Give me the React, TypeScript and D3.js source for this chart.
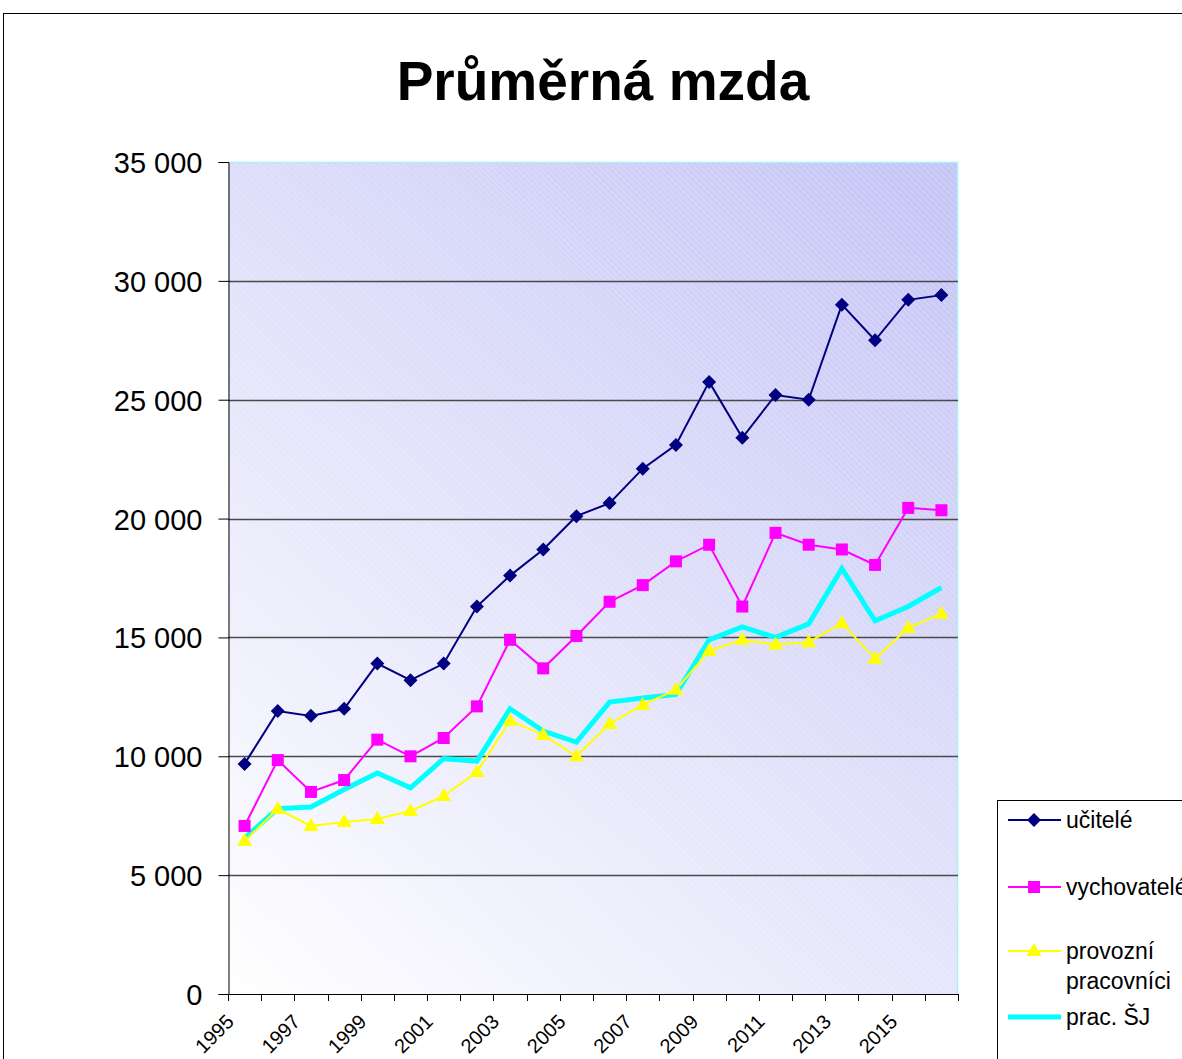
import React, { useEffect, useRef } from 'react';
import * as d3 from 'd3';

const years = d3.range(1995, 2017).map(String);
const yTicks = [0, 5000, 10000, 15000, 20000, 25000, 30000, 35000];

const ucitele = [9680, 11900, 11700, 12000, 13900, 13200, 13900, 16300, 17600, 18700, 20100, 20650, 22100, 23100, 25750, 23400, 25200, 25000, 29000, 27500, 29200, 29400];
const vychovatele = [7070, 9840, 8500, 9000, 10700, 10000, 10770, 12100, 14900, 13700, 15060, 16500, 17200, 18200, 18900, 16300, 19400, 18900, 18700, 18050, 20450, 20350];
const provozni = [6440, 7780, 7070, 7240, 7360, 7700, 8330, 9340, 11500, 10900, 10000, 11360, 12160, 12800, 14430, 14900, 14700, 14800, 15600, 14100, 15400, 16000];
const pracSJ = [6560, 7800, 7870, 8600, 9300, 8670, 9900, 9800, 12000, 11060, 10600, 12280, 12450, 12600, 14900, 15440, 15000, 15570, 17900, 15700, 16300, 17100];

const series = [
  { name: ['učitelé'], values: ucitele, color: '#000080', width: 2, marker: 'diamond' },
  { name: ['vychovatelé'], values: vychovatele, color: '#FF00FF', width: 2, marker: 'square' },
  { name: ['provozní', 'pracovníci'], values: provozni, color: '#FFFF00', width: 2, marker: 'triangle' },
  { name: ['prac. ŠJ'], values: pracSJ, color: '#00FFFF', width: 5, marker: 'none' },
];

const FONT = 'Liberation Sans, Arial, sans-serif';

const App = () => {
  const svgRef = useRef<SVGSVGElement>(null);

  useEffect(() => {
    const svg = d3.select(svgRef.current);
    svg.selectAll('*').remove();

    const W = 1182, H = 1059;
    const plot = { left: 228, right: 958, top: 162, bottom: 994 };

    svg.attr('width', W).attr('height', H).style('font-family', FONT);

    svg.append('rect').attr('width', W).attr('height', H).attr('fill', '#fff');

    // outer frame
    svg.append('rect')
      .attr('x', 3.5).attr('y', 13.5)
      .attr('width', W + 20).attr('height', H + 20)
      .attr('fill', 'none').attr('stroke', '#000').attr('stroke-width', 1);

    // title
    svg.append('text')
      .attr('x', 603).attr('y', 100)
      .attr('text-anchor', 'middle')
      .attr('font-size', 55).attr('font-weight', 'bold')
      .text('Průměrná mzda');

    const x = d3.scaleBand().domain(years).range([plot.left, plot.right]);
    const y = d3.scaleLinear().domain([0, 35000]).range([plot.bottom, plot.top]);

    const defs = svg.append('defs');
    const grad = defs.append('linearGradient')
      .attr('id', 'bg').attr('gradientUnits', 'userSpaceOnUse')
      .attr('x1', plot.left).attr('y1', plot.bottom)
      .attr('x2', plot.right).attr('y2', plot.top);
    grad.append('stop').attr('offset', '0%').attr('stop-color', '#ffffff');
    grad.append('stop').attr('offset', '100%').attr('stop-color', '#c4c4f6');

    const pat = defs.append('pattern')
      .attr('id', 'stripes').attr('patternUnits', 'userSpaceOnUse')
      .attr('width', 6).attr('height', 6);
    pat.append('path').attr('d', 'M0,0 L6,6 M-1,5 L1,7 M5,-1 L7,1')
      .attr('stroke', '#ffffff').attr('stroke-opacity', 0.25).attr('stroke-width', 1);

    svg.append('rect')
      .attr('x', plot.left).attr('y', plot.top)
      .attr('width', plot.right - plot.left).attr('height', plot.bottom - plot.top)
      .attr('fill', 'url(#bg)');
    svg.append('rect')
      .attr('x', plot.left).attr('y', plot.top)
      .attr('width', plot.right - plot.left).attr('height', plot.bottom - plot.top)
      .attr('fill', 'url(#stripes)');

    // plot border (light cyan top/right)
    svg.append('path')
      .attr('d', `M${plot.left},${plot.top + 0.5}H${plot.right - 0.5}V${plot.bottom}`)
      .attr('fill', 'none').attr('stroke', '#a8f0f8').attr('stroke-width', 1.5);

    // gridlines
    svg.append('g').selectAll('line')
      .data(yTicks.filter(d => d > 0 && d < 35000))
      .join('line')
      .attr('x1', plot.left).attr('x2', plot.right)
      .attr('y1', d => Math.round(y(d)) + 0.5).attr('y2', d => Math.round(y(d)) + 0.5)
      .attr('stroke', '#4a4a4a').attr('stroke-width', 1.4);

    // y axis
    const yAxis = d3.axisLeft(y).tickValues(yTicks).tickSize(10).tickPadding(16)
      .tickFormat(d => d3.format(',')(d as number).replace(/,/g, ' '));
    const ya = svg.append('g').attr('transform', `translate(${plot.left + 0.5},0)`).call(yAxis);
    ya.select('.domain').attr('stroke', '#000');
    ya.selectAll('.tick line').attr('stroke', '#000');
    ya.selectAll('.tick text').attr('font-size', 29).attr('font-family', FONT).attr('fill', '#000')
      .attr('dy', '0.36em');

    // x axis
    svg.append('line')
      .attr('x1', plot.left).attr('x2', plot.right)
      .attr('y1', plot.bottom + 0.5).attr('y2', plot.bottom + 0.5)
      .attr('stroke', '#000');
    const bounds = years.map(d => x(d) as number).concat([plot.right]);
    svg.append('g').selectAll('line')
      .data(bounds)
      .join('line')
      .attr('x1', d => Math.round(d) + 0.5).attr('x2', d => Math.round(d) + 0.5)
      .attr('y1', plot.bottom).attr('y2', plot.bottom + 7)
      .attr('stroke', '#000');

    svg.append('g').selectAll('text')
      .data(years.filter((_, i) => i % 2 === 0))
      .join('text')
      .attr('transform', d => `translate(${(x(d) as number) + 7},${plot.bottom + 29}) rotate(-45)`)
      .attr('text-anchor', 'end')
      .attr('font-size', 20)
      .text(d => d);

    // lines
    const line = d3.line<number>()
      .x((_, i) => (x(years[i]) as number) + x.bandwidth() / 2)
      .y(d => y(d));

    const drawMarker = (g: any, type: string, color: string, cx: number, cy: number) => {
      if (type === 'diamond') {
        g.append('path').attr('d', `M${cx},${cy - 7}L${cx + 7},${cy}L${cx},${cy + 7}L${cx - 7},${cy}Z`)
          .attr('fill', color);
      } else if (type === 'square') {
        g.append('rect').attr('x', cx - 6).attr('y', cy - 6).attr('width', 12).attr('height', 12)
          .attr('fill', color);
      } else if (type === 'triangle') {
        g.append('path').attr('d', `M${cx},${cy - 8}L${cx + 7.5},${cy + 5}L${cx - 7.5},${cy + 5}Z`)
          .attr('fill', color);
      }
    };

    // draw order: cyan behind
    const order = [3, 2, 1, 0];
    order.forEach(si => {
      const s = series[si];
      const g = svg.append('g');
      g.append('path').datum(s.values).attr('d', line)
        .attr('fill', 'none').attr('stroke', s.color).attr('stroke-width', s.width)
        .attr('stroke-linejoin', 'miter');
      s.values.forEach((v, i) => {
        drawMarker(g, s.marker, s.color, (x(years[i]) as number) + x.bandwidth() / 2, y(v));
      });
    });

    // legend
    svg.append('rect')
      .attr('x', 997.5).attr('y', 800.5).attr('width', 200).attr('height', 300)
      .attr('fill', '#fff').attr('stroke', '#000');
    const legendY = [820, 887, 951, 1017];
    series.forEach((s, i) => {
      const ly = legendY[i];
      const g = svg.append('g');
      g.append('line').attr('x1', 1008).attr('x2', 1061).attr('y1', ly).attr('y2', ly)
        .attr('stroke', s.color).attr('stroke-width', s.width);
      drawMarker(g, s.marker, s.color, 1034, ly);
      s.name.forEach((n, j) => {
        g.append('text').attr('x', 1066).attr('y', ly + 8 + j * 30)
          .attr('font-size', 23).text(n);
      });
    });
  }, []);

  return (
    <div style={{ position: 'absolute', left: 0, top: 0 }}>
      <svg ref={svgRef}></svg>
    </div>
  );
};

export default App;
